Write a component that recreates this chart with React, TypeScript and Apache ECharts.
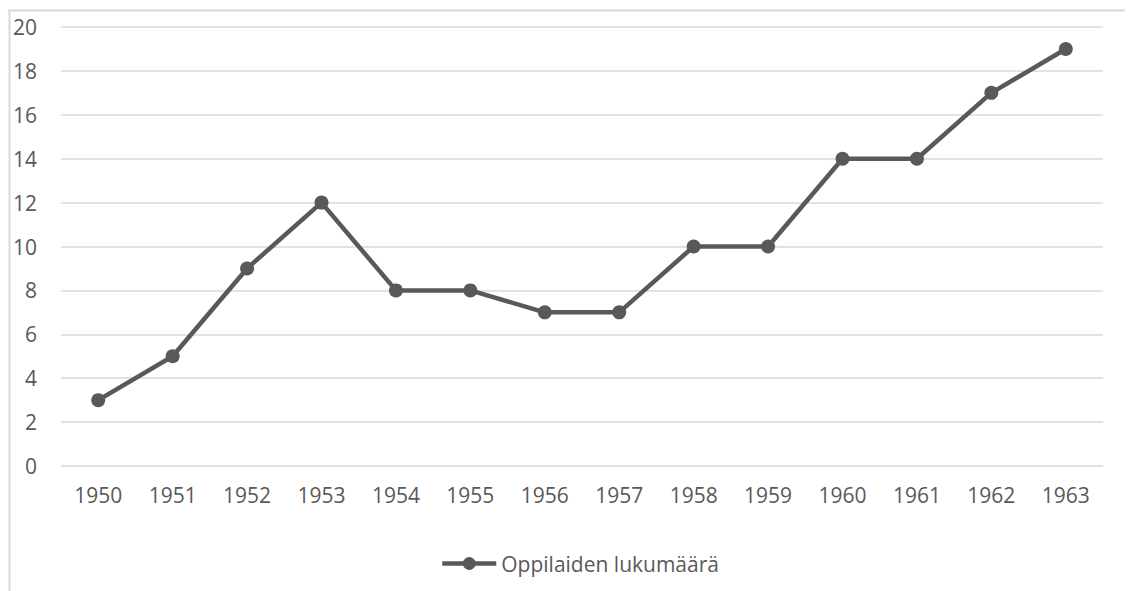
import React, { useEffect, useRef } from "react";
import * as echarts from "echarts";

const years = ["1950", "1951", "1952", "1953", "1954", "1955", "1956", "1957", "1958", "1959", "1960", "1961", "1962", "1963"];
const students = [3, 5, 9, 12, 8, 8, 7, 7, 10, 10, 14, 14, 17, 19];
const seriesName = "Oppilaiden lukumäärä";

export default function App() {
  const ref = useRef<HTMLDivElement>(null);
  useEffect(() => {
    if (!ref.current) return;
    const chart = echarts.init(ref.current, null, { renderer: "svg" });
    const font = "'Open Sans', sans-serif";
    chart.setOption({
      animation: false,
      backgroundColor: "#ffffff",
      grid: { left: 53, right: 30, top: 19, bottom: 125 },
      xAxis: {
        type: "category",
        data: years,
        boundaryGap: true,
        axisLine: { show: false },
        axisTick: { show: false },
        axisLabel: { color: "#595959", fontSize: 21, fontFamily: font, margin: 18 },
      },
      yAxis: {
        type: "value",
        min: 0,
        max: 20,
        interval: 2,
        axisLine: { show: false },
        axisTick: { show: false },
        axisLabel: { color: "#595959", fontSize: 21, fontFamily: font, margin: 24 },
        splitLine: { lineStyle: { color: "#d9d9d9", width: 1.5 } },
      },
      legend: {
        left: 427,
        top: 540,
        itemWidth: 54,
        itemHeight: 16,
        itemStyle: { color: "#595959" },
        lineStyle: { color: "#595959", width: 4.5 },
        textStyle: { color: "#595959", fontSize: 21, fontFamily: font },
        data: [seriesName],
      },
      graphic: [
        { type: "line", shape: { x1: 0, y1: 2.5, x2: 1125, y2: 2.5 }, style: { stroke: "#d9d9d9", lineWidth: 2 } },
        { type: "line", shape: { x1: 1.5, y1: 2, x2: 1.5, y2: 583 }, style: { stroke: "#d9d9d9", lineWidth: 2 } },
      ],
      series: [
        {
          name: seriesName,
          type: "line",
          data: students,
          symbol: "circle",
          symbolSize: 14,
          itemStyle: { color: "#595959" },
          lineStyle: { color: "#595959", width: 4.5 },
        },
      ],
    });
    return () => chart.dispose();
  }, []);
  return <div ref={ref} style={{ width: 1125, height: 583 }} />;
}
